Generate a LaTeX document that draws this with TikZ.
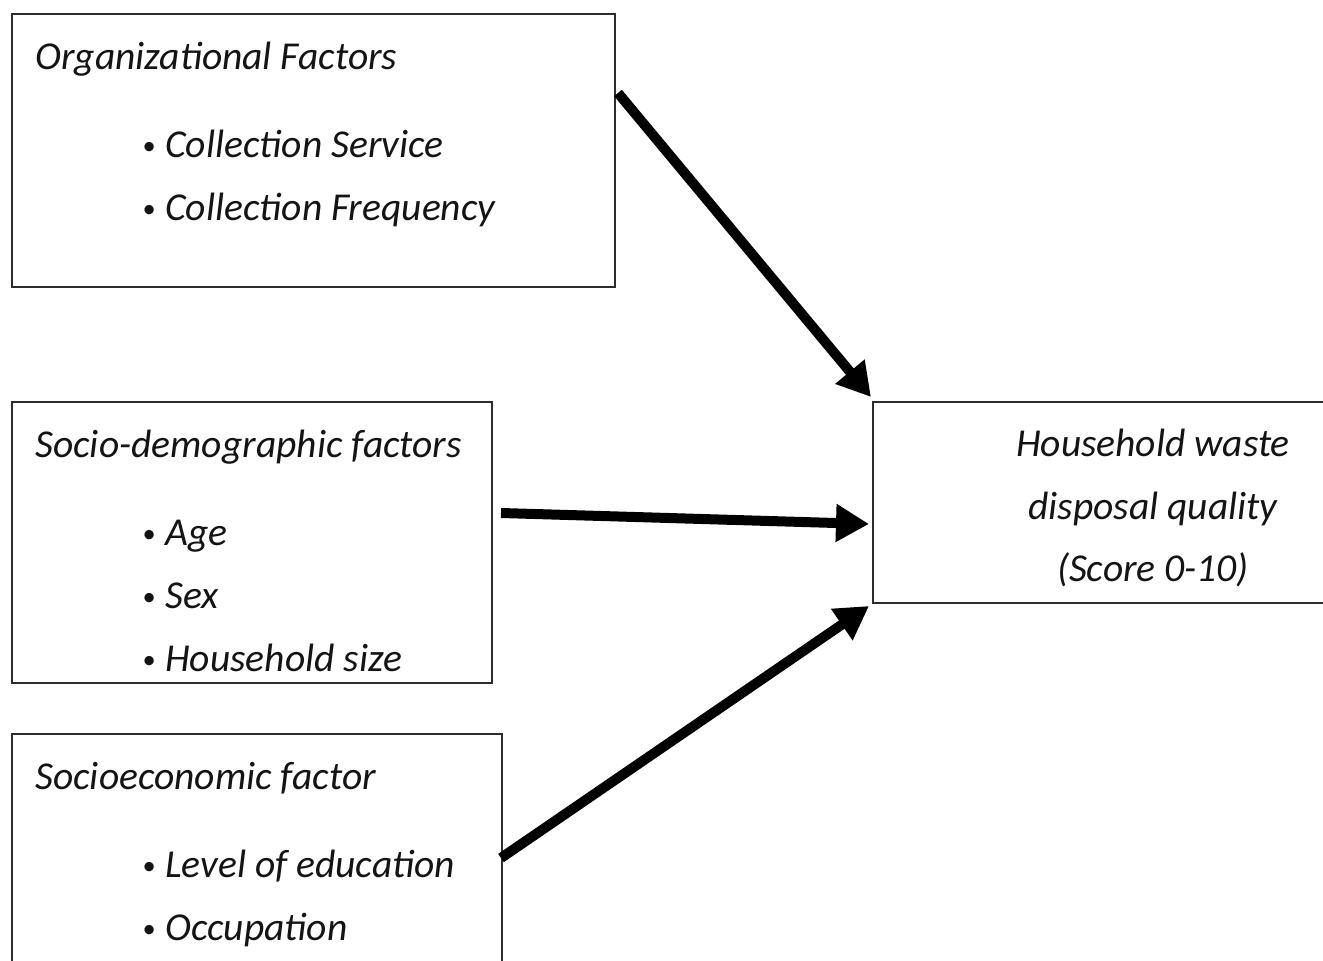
\documentclass[tikz,border=0pt]{standalone}
\usepackage{fontspec}
\setmainfont{Carlito}
\usetikzlibrary{arrows.meta,positioning}
\definecolor{boxgray}{RGB}{45,45,45}
\definecolor{inkblack}{RGB}{20,20,20}
\tikzset{
  factor-box/.style={
    rectangle,
    draw=boxgray,
    line width=0.04cm,
    inner sep=0pt
  },
  factor-title/.style={
    anchor=base west,
    inner sep=0pt,
    text=inkblack,
    font=\fontsize{22.5pt}{27pt}\selectfont\itshape
  },
  factor-item/.style={factor-title},
  outcome-text/.style={factor-title, anchor=base},
  flow/.style={
    line width=0.2cm,
    -{Triangle[length=0.66cm,width=0.72cm]}
  }
}
% small bullet, then the item text starts 0.46cm further on
\newcommand{\bul}{\makebox[0.46cm][l]{\raisebox{0.07cm}{\fontsize{15pt}{15pt}\selectfont\textbullet}}}

\begin{document}
\begin{tikzpicture}
  \useasboundingbox (0,0) rectangle (26.46,19.22);
  \clip (0,0) rectangle (26.46,19.22);

  % --- Boxes ---
  \node[factor-box, minimum width=12.06cm, minimum height=5.46cm] (org)  at (6.27,16.21) {};
  \node[factor-box, minimum width=9.60cm,  minimum height=5.62cm] (demo) at (5.04,8.37) {};
  \node[factor-box, minimum width=9.80cm,  minimum height=5.12cm] (econ) at (5.14,1.98) {};
  \node[factor-box, minimum width=9.44cm,  minimum height=4.02cm] (out)  at (22.18,9.17) {};

  % --- Headings ---
  \node[factor-title] (org-title)  at ([shift={(0.48,-1.14)}]org.north west)  {Organizational Factors};
  \node[factor-title] (demo-title) at ([shift={(0.48,-1.14)}]demo.north west) {Socio-demographic factors};
  \node[factor-title] (econ-title) at ([shift={(0.48,-1.14)}]econ.north west) {Socioeconomic factor};

  % --- Bullet lists, one baseline every 1.26cm ---
  \foreach \txt [count=\i] in {Collection Service, Collection Frequency}
    \node[factor-item] (org-\i) at ([shift={(2.62,{-2.9-(\i-1)*1.26})}]org.north west) {\bul\txt};
  \foreach \txt [count=\i] in {Age, Sex, Household size}
    \node[factor-item] (demo-\i) at ([shift={(2.62,{-2.9-(\i-1)*1.26})}]demo.north west) {\bul\txt};
  \foreach \txt [count=\i] in {Level of education, Occupation}
    \node[factor-item] (econ-\i) at ([shift={(2.62,{-2.9-(\i-1)*1.26})}]econ.north west) {\bul\txt};

  % --- Outcome, centred lines ---
  \foreach \txt [count=\i] in {Household waste, disposal quality, {(Score 0-10)}}
    \node[outcome-text] (out-\i) at ([shift={(5.62,{-1.12-(\i-1)*1.25})}]out.north west) {\txt};

  % --- Arrows ---
  \draw[flow] ([shift={(0.04,1.15)}]org.east) -- ([shift={(-0.02,0.08)}]out.north west);
  \draw[flow] ([shift={(0.16,0.59)}]demo.east) -- ([shift={(-0.06,-0.43)}]out.west);
  \draw[flow] ([shift={(-0.04,0.08)}]econ.east) -- ([shift={(-0.06,-0.04)}]out.south west);
\end{tikzpicture}
\end{document}
